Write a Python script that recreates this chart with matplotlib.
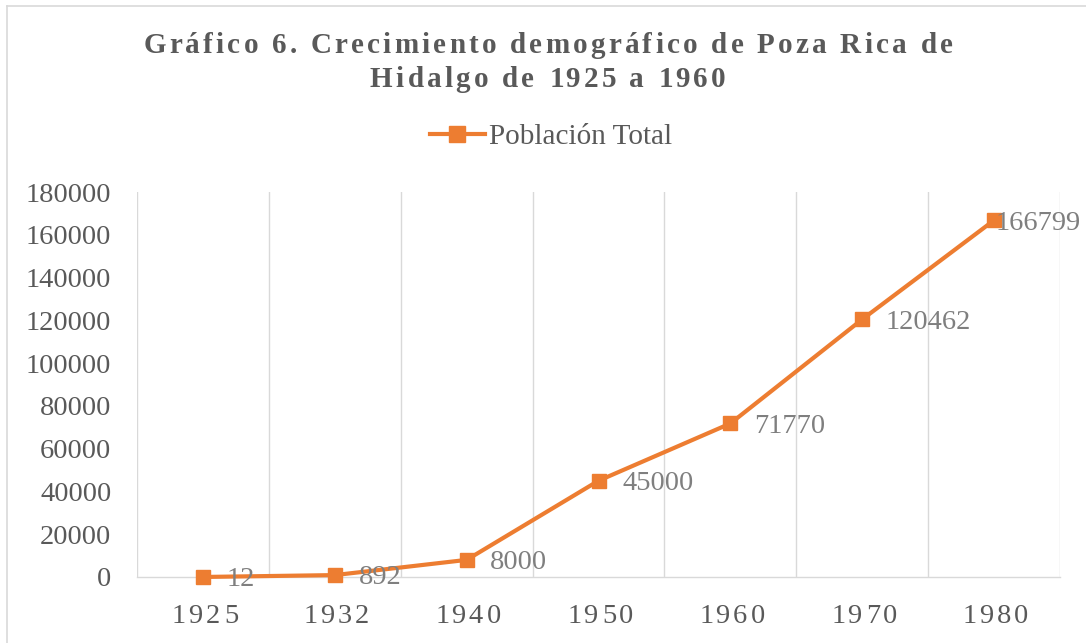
import matplotlib
matplotlib.use("Agg")
import matplotlib.pyplot as plt
from matplotlib import transforms
from matplotlib.font_manager import FontProperties, findfont, get_font
from matplotlib.lines import Line2D

# ---- data ----
years = ["1925", "1932", "1940", "1950", "1960", "1970", "1980"]
population = [12, 892, 8000, 45000, 71770, 120462, 166799]
series_name = "Población Total"
title_lines = ["Gráfico 6. Crecimiento demográfico de Poza Rica de",
               "Hidalgo de 1925 a 1960"]
y_ticks = [0, 20000, 40000, 60000, 80000, 100000, 120000, 140000, 160000, 180000]

ORANGE = "#ED7D31"
GRID = "#D9D9D9"
TICK = "#595959"
LABEL = "#7F7F7F"
FAMILY = "Liberation Serif"

W, H = 1086, 643
fig = plt.figure(figsize=(W / 100, H / 100), dpi=100)
ax = fig.add_axes([137 / W, 1 - 577 / H, (1060 - 137) / W, (577 - 192) / H])


def spaced_text(x, y, s, transform, size, weight, color, spacing_pt):
    prop = FontProperties(family=FAMILY, size=size, weight=weight)
    font = get_font(findfont(prop))
    font.set_size(size, 72)
    glyphs = [font.load_char(ord(c)) for c in s]
    adv = [g.linearHoriAdvance / 65536 for g in glyphs]
    total = sum(adv) + spacing_pt * (len(s) - 1)
    cur = -total / 2
    for c, a, g in zip(s, adv, glyphs):
        if c != " ":
            bx = g.horiBearingX / 64
            tr = transforms.offset_copy(transform, fig=fig, x=cur + bx, y=0, units="points")
            fig.text(x, y, c, transform=tr, fontproperties=prop, color=color,
                     ha="left", va="baseline")
        cur += a + spacing_pt


xs = list(range(len(years)))
ax.plot(xs, population, color=ORANGE, lw=3, marker="s", markersize=10,
        markeredgecolor=ORANGE, solid_joinstyle="round", zorder=3, clip_on=False)

ax.set_xlim(-0.5, len(years) - 0.5)
ax.set_ylim(0, 180000)
ax.set_yticks(y_ticks)
ax.set_yticklabels([str(v) for v in y_ticks], fontfamily=FAMILY, fontsize=20.5, color=TICK)
ax.tick_params(axis="y", length=0, pad=18.5)
ax.set_xticks(xs)
ax.set_xticklabels([])
ax.tick_params(axis="x", which="both", length=0)
ax.set_xticks([i - 0.5 for i in range(len(years) + 1)], minor=True)
ax.grid(True, which="minor", axis="x", color=GRID, lw=1.0)
ax.grid(False, which="major")
for sp in ["left", "right", "top"]:
    ax.spines[sp].set_visible(False)
ax.spines["bottom"].set_color(GRID)
ax.spines["bottom"].set_linewidth(1.0)

# x tick labels with letter spacing
for x, lab in zip(xs, years):
    spaced_text(x, 0, lab, transforms.offset_copy(ax.get_xaxis_transform(), fig=fig,
                                                    x=0, y=-33, units="points"),
                20.5, "normal", TICK, 2.4)

# data labels
LX, LY = 17, -2
labels = []
for x, v in zip(xs, population):
    t = ax.annotate(str(v), (x, v), xytext=(LX, LY), textcoords="offset points",
                    fontfamily=FAMILY, fontsize=20.5, color=LABEL, va="center", ha="left",
                    zorder=4, annotation_clip=False)
    labels.append(t)
fig.canvas.draw()
r = fig.canvas.get_renderer()
for t in labels:
    bb = t.get_window_extent(r)
    limit = W - 5
    if bb.x1 > limit:
        dx_pt = (bb.x1 - limit) * 72 / 100
        t.set_position((LX - dx_pt, LY))

# title
spaced_text(547 / W, 1 - 53 / H, title_lines[0], fig.transFigure, 21, "bold", TICK, 2.3)
spaced_text(547 / W, 1 - 87 / H, title_lines[1], fig.transFigure, 21, "bold", TICK, 2.3)

# legend
handle = Line2D([], [], color=ORANGE, lw=3, marker="s", markersize=11.5,
                markeredgecolor=ORANGE)
fig.legend([handle], [series_name], loc="center", bbox_to_anchor=(551 / W, 1 - 137 / H),
           frameon=False, handlelength=1.9, handletextpad=0.15,
           prop=FontProperties(family=FAMILY, size=21), labelcolor=TICK)

# chart border
fig.add_artist(Line2D([7 / W, 1], [1 - 6 / H, 1 - 6 / H], transform=fig.transFigure,
                      color=GRID, lw=1.2))
fig.add_artist(Line2D([7 / W, 7 / W], [0, 1 - 6 / H], transform=fig.transFigure,
                      color=GRID, lw=1.2))

fig.savefig("out.png", dpi=100)
